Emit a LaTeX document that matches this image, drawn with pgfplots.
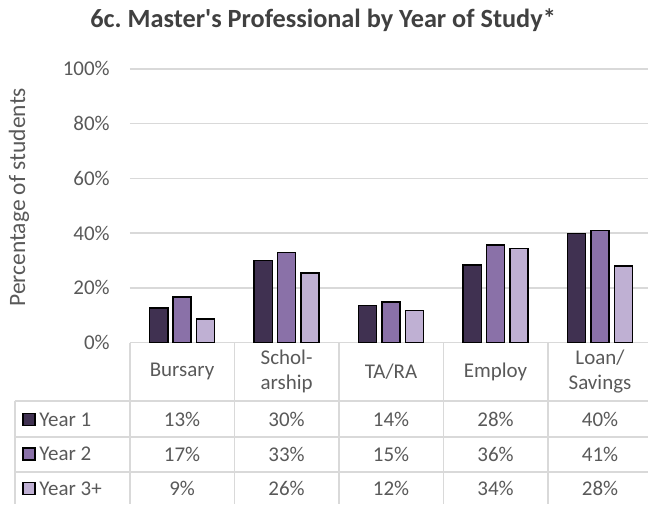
\documentclass[border=0pt]{standalone}
\usepackage{pgfplots}
\pgfplotsset{compat=1.18}
\usepackage{fontspec}
\setmainfont{Carlito}[Ligatures=Common]
\definecolor{yone}{HTML}{403151}
\definecolor{ytwo}{HTML}{8A71A8}
\definecolor{ythree}{HTML}{BFB0D3}
\definecolor{linegray}{HTML}{D9D9D9}
\definecolor{txtgray}{HTML}{595959}
\definecolor{titlegray}{HTML}{404040}
\newcommand{\tf}{\fontsize{21bp}{24.5bp}\selectfont}
\frenchspacing
\begin{document}
\begin{tikzpicture}[x=1bp,y=1bp]
\path (0,0) rectangle (649,505);
\begin{axis}[
  at={(130bp,162bp)}, anchor=south west,
  scale only axis, width=519bp, height=274bp,
  xmin=-0.5, xmax=4.4618, ymin=0, ymax=100,
  ybar=5.2bp, bar width=18.2bp,
  axis x line*=bottom, axis y line*=left,
  x axis line style={draw=linegray, line width=1.5bp, -},
  y axis line style={draw=none},
  xtick=\empty,
  ytick={0,20,40,60,80,100},
  yticklabels={0\%,20\%,40\%,60\%,80\%,100\%},
  major tick length=0pt,
  ymajorgrids, grid style={linegray, line width=1.5bp},
  yticklabel style={font=\tf, text=txtgray, inner sep=0pt, xshift=-20bp},
  /pgf/number format/assume math mode=true,
  every axis plot/.append style={draw=black, line width=1.4bp},
]
\addplot[fill=yone] coordinates {(0,12.7) (1,30.1) (2,13.5) (3,28.3) (4,39.9)};
\addplot[fill=ytwo] coordinates {(0,16.7) (1,33.0) (2,14.8) (3,35.7) (4,40.9)};
\addplot[fill=ythree] coordinates {(0,8.6) (1,25.5) (2,11.8) (3,34.4) (4,28.0)};
\end{axis}
% table grid
\begin{scope}[draw=linegray, line width=1.5bp]
\draw (15,103.5) -- (649,103.5);
\draw (15,67.7) -- (649,67.7);
\draw (15,32.3) -- (649,32.3);
\draw (15,103.5) -- (15,0);
\foreach \xx in {130,234.6,339.2,443.8,548.4} {\draw (\xx,162) -- (\xx,0);}
\end{scope}
% category labels
\begin{scope}[every node/.style={font=\tf, text=txtgray, align=center, inner sep=0pt}]
\node at (182.3,133) {Bursary};
\node at (286.9,133) {Schol-\\arship};
\node at (391.5,133) {TA/RA};
\node at (496.1,133) {Employ};
\node at (600.7,133) {Loan/\\Savings};
% row labels
\node[anchor=west] at (39.3,85) {Year 1};
\node[anchor=west] at (39.3,50.5) {Year 2};
\node[anchor=west] at (39.3,16) {Year 3+};
% values
\foreach \xx/\a/\b/\c in {182.3/13/17/9, 286.9/30/33/26, 391.5/14/15/12, 496.1/28/36/34, 600.7/40/41/28} {
  \node at (\xx,85) {\a\%};
  \node at (\xx,50.5) {\b\%};
  \node at (\xx,16) {\c\%};
}
\end{scope}
\draw[fill=yone, draw=black, line width=1.4bp] (23,79) rectangle (35,91);
\draw[fill=ytwo, draw=black, line width=1.4bp] (23,44.5) rectangle (35,56.5);
\draw[fill=ythree, draw=black, line width=1.4bp] (23,10) rectangle (35,22);
% title and y label
\node[font=\fontsize{26.3bp}{30bp}\selectfont\bfseries, text=titlegray, anchor=base, inner sep=0pt] at (323.5,477) {6c. Master\textquotesingle s Professional by Year of Study*};
\node[font=\fontsize{23.5bp}{28bp}\selectfont, text=txtgray, rotate=90, inner sep=0pt] at (19,307.5) {Percentage of students};
\end{tikzpicture}
\end{document}
